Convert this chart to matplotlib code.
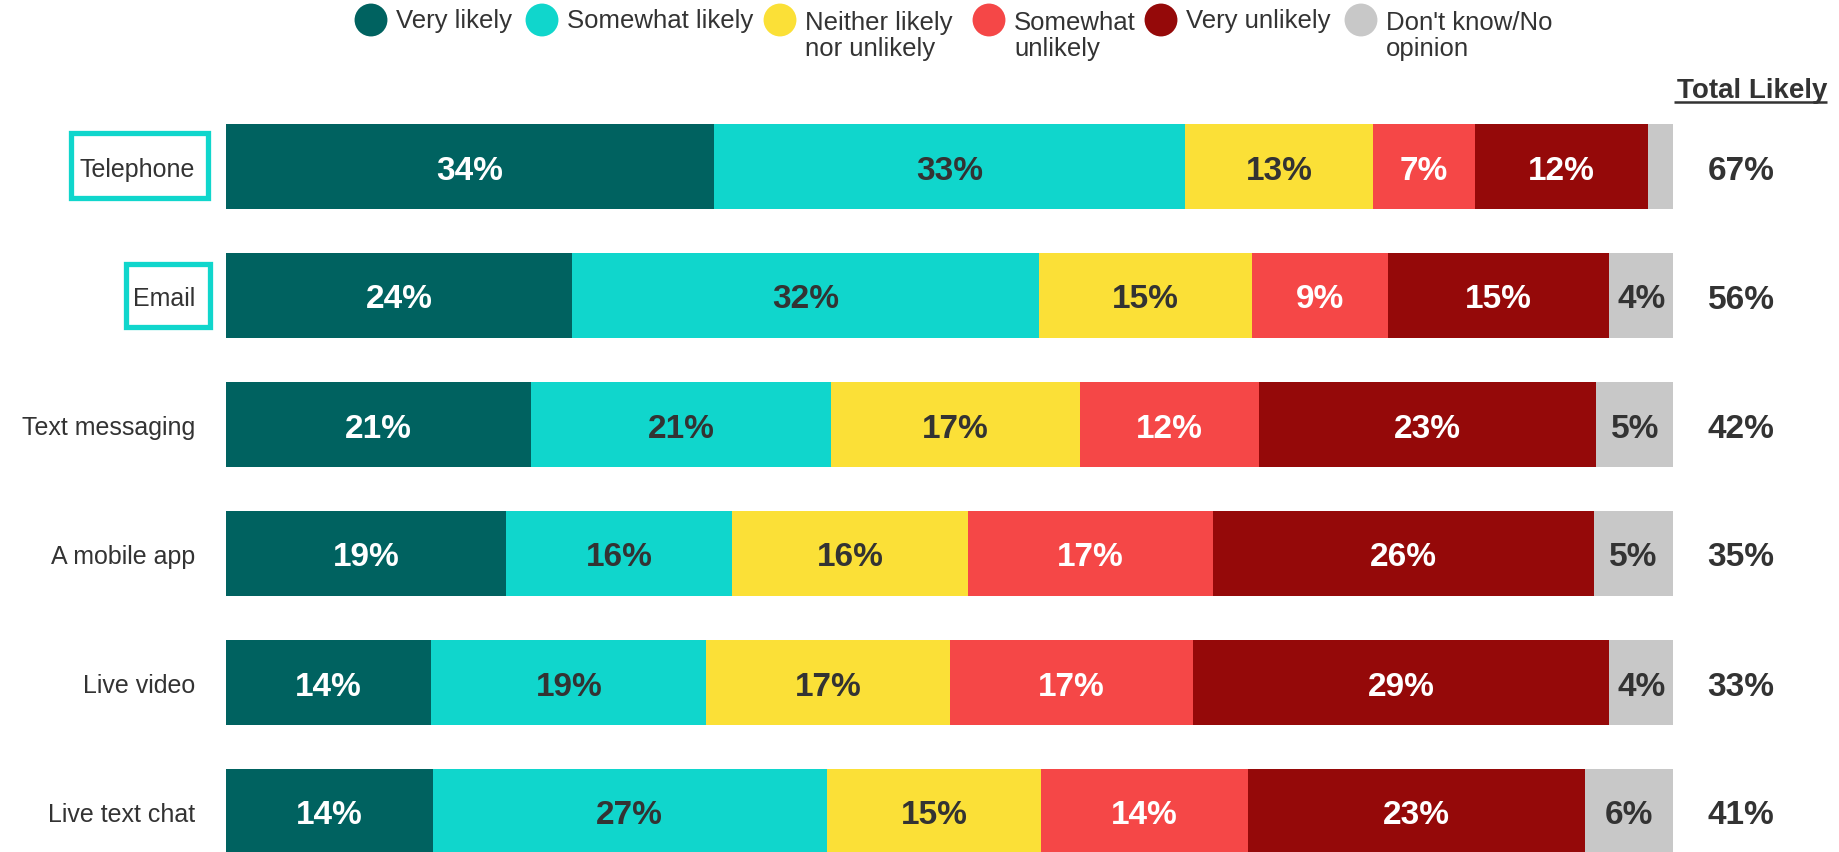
import matplotlib
matplotlib.use("Agg")
import matplotlib.pyplot as plt
from matplotlib.patches import Rectangle

plt.rcParams['font.family'] = ['Liberation Sans', 'DejaVu Sans']

# ---------------- data ----------------
categories = ["Telephone", "Email", "Text messaging", "A mobile app", "Live video", "Live text chat"]
series_names = ["Very likely", "Somewhat likely", "Neither likely\nnor unlikely",
                "Somewhat\nunlikely", "Very unlikely", "Don't know/No\nopinion"]
very_likely = [33.7, 23.9, 21.1, 19.35, 14.2, 14.28]
somewhat_likely = [32.6, 32.3, 20.7, 15.62, 19.0, 27.25]
neither = [13.0, 14.7, 17.2, 16.31, 16.8, 14.79]
somewhat_unlikely = [7.0, 9.4, 12.4, 16.93, 16.8, 14.31]
very_unlikely = [12.0, 15.3, 23.3, 26.33, 28.8, 23.29]
dont_know = [1.7, 4.4, 5.3, 5.46, 4.4, 6.08]
total_likely = [67, 56, 42, 35, 33, 41]
highlighted = ["Telephone", "Email"]

series = [very_likely, somewhat_likely, neither, somewhat_unlikely, very_unlikely, dont_know]
colors = ["#006260", "#10D6CC", "#FBE037", "#F54747", "#950909", "#C8C8C8"]
text_colors = ["white", "#333333", "#333333", "white", "white", "#333333"]
dark = "#333333"

W, H = 1839, 853
fig = plt.figure(figsize=(W / 100, H / 100), dpi=100)

# bar axes (pixel geometry: bars from x=226 to 1673, row spacing 129 px)
row_px = 129.0
top_px = 103.0
ax = fig.add_axes([226 / W, 0, 1447 / W, (H - top_px) / H])
ax.set_xlim(0, 100)
n = len(categories)
y_bottom = 5 + (H - 812.5) / row_px
ax.set_ylim(y_bottom, -0.5)
ax.axis('off')

ypos = list(range(n))
left = [0.0] * n
for vals, c, tc in zip(series, colors, text_colors):
    ax.barh(ypos, vals, left=left, height=0.655, color=c, edgecolor='none')
    for i, v in enumerate(vals):
        if v >= 3:
            ax.text(left[i] + v / 2, i, f"{round(v)}%", ha='center', va='center_baseline',
                    fontsize=24, fontweight='bold', color=tc)
    left = [l + v for l, v in zip(left, vals)]

# overlay in pixel coordinates
ov = fig.add_axes([0, 0, 1, 1], facecolor='none')
ov.set_xlim(0, W)
ov.set_ylim(H, 0)
ov.axis('off')

centers = [167.5 + i * row_px for i in range(n)]
for i, cat in enumerate(categories):
    ov.text(195, centers[i], cat, ha='right', va='center_baseline', fontsize=18, color=dark)
    ov.text(1741, centers[i], f"{total_likely[i]}%", ha='center', va='center_baseline',
            fontsize=24, fontweight='bold', color=dark)

# highlight boxes
boxes = {"Telephone": (71.5, 133.5, 208, 198.5), "Email": (126.5, 264.5, 210.5, 327.5)}
for cat in highlighted:
    x0, y0, x1, y1 = boxes[cat]
    ov.add_patch(Rectangle((x0, y0), x1 - x0, y1 - y0, fill=False, ec="#10D6CC", lw=3.8))

# Total Likely header
ov.text(1827, 98, "Total Likely", ha='right', va='baseline', fontsize=20,
        fontweight='bold', color=dark)
ov.plot([1674, 1827], [103, 103], color=dark, lw=1.8, solid_capstyle='butt')

# legend
circ_x = [371, 542, 780, 989, 1161, 1361]
for cx, name, c in zip(circ_x, series_names, colors):
    ov.scatter([cx], [21], s=560, color=c, edgecolors='none')
    lines = name.split("\n")
    if len(lines) == 1:
        ov.text(cx + 25, 21, lines[0], ha='left', va='center', fontsize=18.5, color=dark)
    else:
        ov.text(cx + 25, 23, lines[0], ha='left', va='center', fontsize=18.5, color=dark)
        ov.text(cx + 25, 49, lines[1], ha='left', va='center', fontsize=18.5, color=dark)

fig.savefig("out.png", dpi=100)
